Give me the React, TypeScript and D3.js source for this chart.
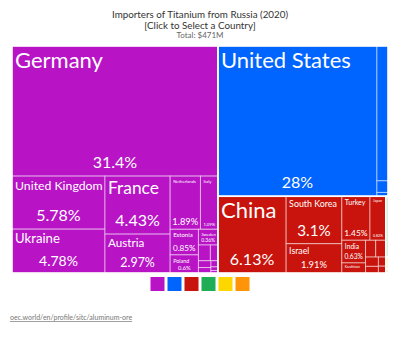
import { useEffect, useRef } from "react";
import * as d3 from "d3";

// continents, legend order
const continents = ["Europe", "North America", "Asia", "Africa", "Oceania", "South America"];
const continentColors = ["#b814c6", "#0064ff", "#c8140c", "#1fae55", "#ffd700", "#ff9409"];

// countries, share of total (%), continent index
const countries = [
  "Germany", "United Kingdom", "Ukraine", "France", "Austria", "Netherlands", "Italy",
  "Estonia", "Poland", "Sweden", "Spain", "Czechia", "Belgium", "Switzerland", "Finland",
  "Slovakia", "Latvia",
  "United States", "Canada", "Mexico", "Brazil",
  "China", "South Korea", "Israel", "Turkey", "Japan", "India", "United Arab Emirates",
  "Kazakhstan", "Singapore", "Vietnam", "Thailand", "Malaysia", "Taiwan",
  "Egypt", "Australia", "Argentina",
];
const shares = [
  31.4, 5.78, 4.78, 4.43, 2.97, 1.89, 1.09,
  0.85, 0.6, 0.36, 0.22, 0.14, 0.1, 0.08, 0.05,
  0.03, 0.02,
  28, 1.75, 0.15, 0.05,
  6.13, 3.1, 1.91, 1.45, 0.82, 0.63, 0.2,
  0.28, 0.2, 0.14, 0.1, 0.08, 0.06,
  0.15, 0.03, 0.01,
];
const regionOf = [
  0, 0, 0, 0, 0, 0, 0,
  0, 0, 0, 0, 0, 0, 0, 0,
  0, 0,
  1, 1, 1, 1,
  2, 2, 2, 2, 2, 2, 2,
  2, 2, 2, 2, 2, 2,
  3, 4, 5,
];

const title = "Importers of Titanium from Russia (2020)";
const subtitle = "[Click to Select a Country]";
const total = "Total: $471M";
const source = "oec.world/en/profile/sitc/aluminum-ore";

const FONT = "Lato, 'Open Sans', sans-serif";

export default function App() {
  const ref = useRef<SVGSVGElement | null>(null);

  useEffect(() => {
    document.body.style.margin = "0";
    if (!ref.current) return;
    const svg = d3.select(ref.current);
    svg.selectAll("*").remove();

    const W = 400;
    const box = { x: 12, y: 46, w: 376, h: 227 };

    svg.append("rect").attr("width", W).attr("height", 358).attr("fill", "#fff");

    // titles
    const t = svg.append("g").attr("font-family", FONT).attr("text-anchor", "middle");
    t.append("text").attr("x", W / 2).attr("y", 18).attr("font-size", 9.8).attr("fill", "#333").text(title);
    t.append("text").attr("x", W / 2).attr("y", 28.5).attr("font-size", 9.8).attr("fill", "#333").text(subtitle);
    t.append("text").attr("x", W / 2).attr("y", 37.5).attr("font-size", 8).attr("fill", "#666").text(total);

    // hierarchy
    const data = {
      name: "root",
      children: continents.map((c, ci) => ({
        name: c,
        ci,
        children: countries
          .map((n, i) => ({ name: n, value: shares[i], ci: regionOf[i] }))
          .filter((d) => d.ci === ci),
      })),
    };
    const root = d3
      .hierarchy<any>(data)
      .sum((d) => d.value || 0)
      .sort((a, b) => (b.value || 0) - (a.value || 0));

    d3.treemap<any>().size([box.w, box.h]).tile(d3.treemapSquarify).round(false)(root);

    const g = svg.append("g").attr("transform", `translate(${box.x},${box.y})`);
    const fmt = d3.format(".3~r");

    const leaves = root.leaves() as d3.HierarchyRectangularNode<any>[];
    const cell = g
      .selectAll("g.leaf")
      .data(leaves)
      .join("g")
      .attr("class", "leaf");

    cell
      .append("rect")
      .attr("x", (d) => d.x0)
      .attr("y", (d) => d.y0)
      .attr("width", (d) => Math.max(0, d.x1 - d.x0))
      .attr("height", (d) => Math.max(0, d.y1 - d.y0))
      .attr("fill", (d) => continentColors[d.data.ci])
      .attr("stroke", "rgba(255,255,255,0.5)")
      .attr("stroke-width", 1);

    cell.each(function (d) {
      const w = d.x1 - d.x0;
      const h = d.y1 - d.y0;
      if (w < 10 || h < 10) return;
      const sel = d3.select(this).attr("font-family", FONT).attr("fill", "#fff");
      const name = d.data.name;
      const pct = fmt(d.data.value) + "%";
      const ns = Math.min((w - 7) / (0.5 * name.length), h * 0.3, 22);
      const ps = Math.min((w - 7) / (0.5 * pct.length), h * 0.32, 16);
      if (ns >= 3) {
        sel
          .append("text")
          .attr("x", d.x0 + 3)
          .attr("y", d.y0 + 3 + ns * 0.85)
          .attr("font-size", ns)
          .text(name);
      }
      if (ps >= 3 && h >= 4 + ns + ps * 1.2) {
        sel
          .append("text")
          .attr("x", (d.x0 + d.x1) / 2)
          .attr("y", d.y1 - Math.max(3.5, ps * 0.5))
          .attr("text-anchor", "middle")
          .attr("font-size", ps)
          .text(pct);
      }
    });

    // continent separators
    g.selectAll("rect.group")
      .data(root.children as d3.HierarchyRectangularNode<any>[])
      .join("rect")
      .attr("class", "group")
      .attr("x", (d) => d.x0)
      .attr("y", (d) => d.y0)
      .attr("width", (d) => d.x1 - d.x0)
      .attr("height", (d) => d.y1 - d.y0)
      .attr("fill", "none")
      .attr("stroke", "#fff")
      .attr("stroke-width", 1.5);

    // legend
    const sq = 14;
    const gap = 3;
    const lx = W / 2 - (continents.length * sq + (continents.length - 1) * gap) / 2;
    svg
      .append("g")
      .selectAll("rect")
      .data(continents)
      .join("rect")
      .attr("x", (_, i) => lx + i * (sq + gap))
      .attr("y", 277)
      .attr("width", sq)
      .attr("height", sq)
      .attr("fill", (_, i) => continentColors[i]);

    svg
      .append("text")
      .attr("x", 10)
      .attr("y", 320)
      .attr("font-family", FONT)
      .attr("font-size", 7)
      .attr("fill", "#777")
      .attr("text-decoration", "underline")
      .text(source);
  }, []);

  return <svg ref={ref} width={400} height={358} style={{ display: "block" }} />;
}
